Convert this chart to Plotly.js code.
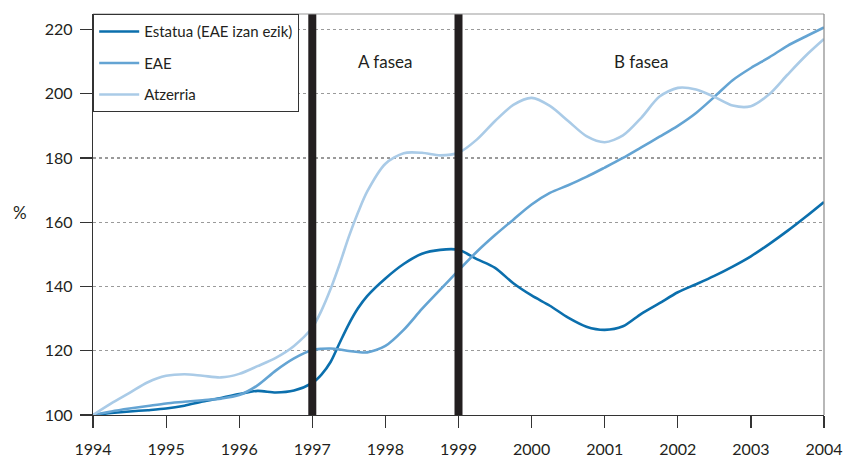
<!DOCTYPE html>
<html>
<head>
<meta charset="utf-8">
<script src="https://cdn.plot.ly/plotly-3.0.1.min.js"></script>
<style>html,body{margin:0;padding:0;background:#fff;}#chart{width:843px;height:457px;}</style>
</head>
<body>
<div id="chart"></div>
<script>
const years = [1994, 1994.25, 1994.5, 1994.75, 1995, 1995.25, 1995.5, 1995.75, 1996, 1996.25, 1996.5, 1996.75,
  1997, 1997.125, 1997.25, 1997.375, 1997.5, 1997.625, 1997.75, 1998, 1998.25, 1998.5, 1998.75, 1999, 1999.25, 1999.5, 1999.75,
  2000, 2000.25, 2000.5, 2000.75, 2001, 2001.25, 2001.5, 2001.75, 2002, 2002.25, 2002.5, 2002.75,
  2003, 2003.25, 2003.5, 2003.75, 2004];
const estatua = [100, 100.6, 101.1, 101.5, 102.0, 102.9, 104.2, 105.3, 106.5, 107.5, 107.0, 107.6,
  110.0, 112.6, 116.5, 122.5, 128.3, 133.2, 137.0, 142.5, 147.0, 150.2, 151.4, 151.4, 148.5, 145.8, 141.0,
  137.2, 134.0, 130.3, 127.5, 126.5, 127.6, 131.5, 134.8, 138.2, 140.7, 143.3, 146.2,
  149.4, 153.2, 157.3, 161.7, 166.3];
const eae = [100, 101.1, 102.0, 102.8, 103.6, 104.1, 104.6, 105.1, 106.2, 109.2, 113.8, 117.6,
  120.2, 120.6, 120.7, 120.4, 119.9, 119.6, 119.5, 121.5, 126.5, 133.0, 139.0, 145.0, 150.8, 156.0, 160.8,
  165.5, 169.1, 171.5, 174.1, 177.0, 180.0, 183.3, 186.6, 190.0, 194.0, 199.0, 204.2,
  208.0, 211.3, 214.9, 217.8, 220.6];
const atzerria = [100, 103.6, 106.9, 110.2, 112.2, 112.7, 112.2, 111.7, 112.8, 115.2, 117.8, 121.5,
  127.2, 132.5, 139.2, 147.0, 155.5, 163.0, 169.5, 178.2, 181.5, 181.6, 180.8, 181.6, 185.7, 191.5, 196.5,
  198.7, 196.2, 191.5, 186.8, 184.9, 187.0, 192.5, 199.1, 201.8, 201.3, 199.0, 196.3,
  196.1, 199.8, 205.9, 211.8, 217.0];
const seriesNames = ['Estatua (EAE izan ezik)', 'EAE', 'Atzerria'];
const phaseBounds = [1997, 1999];
const phaseLabels = ['A fasea', 'B fasea'];
const phaseLabelX = [1998, 2001.5];
const xTicks = [1994, 1995, 1996, 1997, 1998, 1999, 2000, 2001, 2002, 2003, 2004];
const yTicks = [100, 120, 140, 160, 180, 200, 220];

const FONT = 'Lato, "Open Sans", sans-serif';
const colors = ['#0b6fad', '#64a4d3', '#aacbe7'];
const ys = [estatua, eae, atzerria];

const traces = ys.map((y, i) => ({
  x: years, y: y, type: 'scatter', mode: 'lines', name: seriesNames[i],
  legendgroup: 'g' + i,
  line: {color: colors[i], width: 2.6, shape: 'spline', smoothing: 0.8}
}));

const shapes = phaseBounds.map(b => ({
  type: 'line', xref: 'x', yref: 'paper', x0: b, x1: b, y0: 0, y1: 1,
  line: {color: '#231f20', width: 8}, layer: 'above'
}));
shapes.push({type: 'line', xref: 'paper', yref: 'paper', x0: 0, x1: 1, y0: 1, y1: 1, line: {color: '#999', width: 1.2}});
shapes.push({type: 'line', xref: 'paper', yref: 'paper', x0: 1, x1: 1, y0: 0, y1: 1, line: {color: '#888', width: 1.2}});

const annotations = phaseLabels.map((t, i) => ({
  text: t, x: phaseLabelX[i], y: 210, xref: 'x', yref: 'y', showarrow: false,
  font: {family: FONT, size: 17, color: '#231f20'}
}));
annotations.push({text: '%', xref: 'paper', yref: 'paper', x: -0.1, y: 0.505, xanchor: 'center', yanchor: 'middle',
  showarrow: false, font: {family: FONT, size: 17, color: '#231f20'}});

const layout = {
  width: 843, height: 457,
  margin: {l: 93, r: 19, t: 14, b: 42},
  paper_bgcolor: '#fff', plot_bgcolor: '#fff',
  font: {family: FONT, color: '#231f20', size: 16},
  showlegend: true,
  legend: {x: 0, y: 1, xanchor: 'left', yanchor: 'top', bgcolor: '#fff',
    bordercolor: '#333', borderwidth: 1.2, font: {family: FONT, size: 15, color: '#231f20'},
    tracegroupgap: 9, itemwidth: 40},
  xaxis: {range: [1994, 2004], tickvals: xTicks, ticktext: xTicks.map(String),
    showgrid: false, zeroline: false, showline: true, linecolor: '#333', linewidth: 1.2,
    ticks: 'outside', ticklen: 12, tickcolor: '#333', tickwidth: 1.2, ticklabelstandoff: 8,
    tickfont: {family: FONT, size: 16, color: '#231f20'}},
  yaxis: {range: [100, 224.8], tickvals: yTicks, ticktext: yTicks.map(String),
    showgrid: true, gridcolor: '#9a9a9a', griddash: 'dot', gridwidth: 1.2,
    zeroline: false, showline: true, linecolor: '#333', linewidth: 1.2,
    ticks: 'outside', ticklen: 12, tickcolor: '#333', tickwidth: 1.2, ticklabelstandoff: 4,
    tickfont: {family: FONT, size: 16, color: '#231f20'}},
  shapes: shapes,
  annotations: annotations
};

Plotly.newPlot('chart', traces, layout, {displayModeBar: false, staticPlot: true});
</script>
</body>
</html>
